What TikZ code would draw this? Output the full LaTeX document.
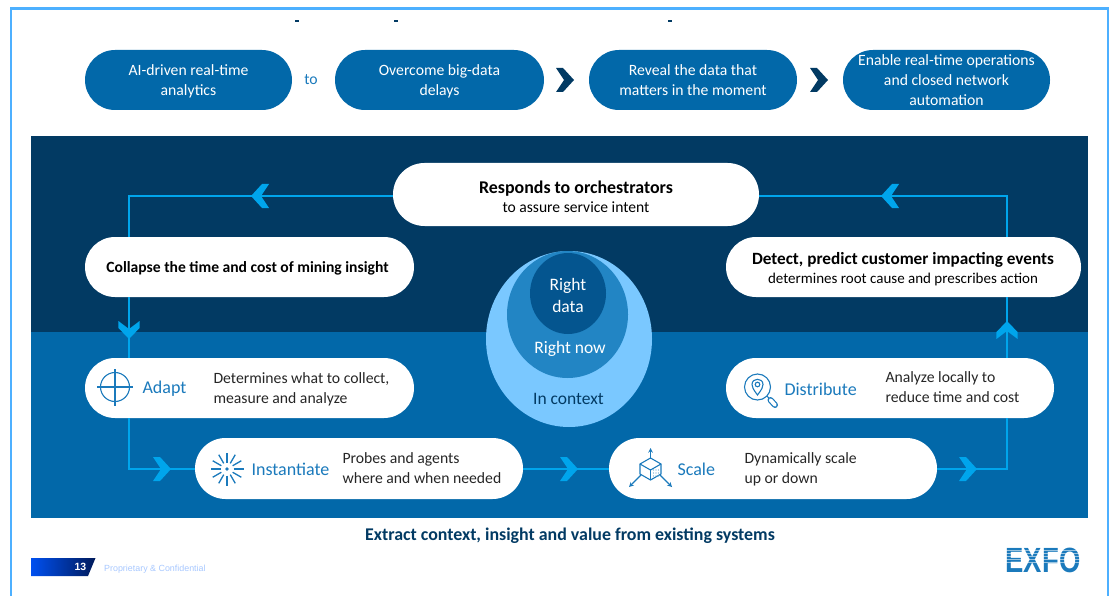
\documentclass[tikz,border=0pt]{standalone}
\usepackage{fontspec}
\setmainfont{Carlito}
\newfontfamily\footfont{Liberation Sans}
\usetikzlibrary{shapes.geometric, shapes.misc, arrows, positioning}

\definecolor{navyband}{HTML}{023A63}
\definecolor{blueband}{HTML}{0268A9}
\definecolor{linkcyan}{HTML}{00A5EC}
\definecolor{framesky}{HTML}{4DB0FF}
\definecolor{labelblue}{HTML}{1B7ABC}
\definecolor{ringpale}{HTML}{7AC8FF}
\definecolor{ringmid}{HTML}{2285C4}
\definecolor{ringdark}{HTML}{04558F}
\definecolor{footblue}{HTML}{0050F0}
\definecolor{footnavy}{HTML}{001A5A}
\definecolor{footgrey}{HTML}{A8C8FF}

\tikzset{
    pill/.style={rounded rectangle, fill=white, inner sep=0pt, align=center, text=black!90},
    toppill/.style={rounded rectangle, fill=blueband, text=white, inner sep=0pt, align=center,
        minimum height=60pt, font=\fontsize{15.7}{20}\selectfont},
    stagelabel/.style={anchor=west, text=labelblue, font=\fontsize{18}{22}\selectfont},
    stagetext/.style={anchor=west, align=left, text=black!85, font=\fontsize{15.7}{20}\selectfont},
    ringtext/.style={text=white, align=center, font=\fontsize{17.5}{22}\selectfont},
    link/.style={draw=linkcyan, line width=1.6pt},
    icon/.style={draw=labelblue, line width=1.1pt},
    chevron/.pic={\fill (-9,-12) -- (-2,-12) -- (9,0) -- (-2,12) -- (-9,12) -- (-1,0) -- cycle;}
}

\begin{document}
\begin{tikzpicture}[x=1pt,y=-1pt]
\useasboundingbox (0,0) rectangle (1113,596);

% Frame, open at the bottom
\draw[framesky, line width=2.8pt] (11,596) -- (11,8.5) -- (1108,8.5) -- (1108,596);

% Specks left of a cut title
\foreach \x in {297,396,670}
{
    \fill[navyband] (\x-2,20) rectangle ++(4,2.5);
}

% Bands
\fill[navyband] (31,136) rectangle (1088,332);
\fill[blueband] (31,332) rectangle (1088,518);

% Top row
\node[toppill, minimum width=207pt] (analytics) at (188.5,80) {AI-driven real-time\\\smash{analytics}};
\node[toppill, minimum width=209pt] (delays) at (439.5,80) {Overcome big-data\\\smash{delays}};
\node[toppill, minimum width=208pt] (reveal) at (693,80) {Reveal the data that\\matters in the moment};
\node[toppill, minimum width=207pt] (enable) at (946.5,80) {Enable real-time operations\\and closed network\\automation};
\node[text=labelblue, font=\fontsize{15.7}{20}\selectfont] (tolabel) at (311,80) {to};
\foreach \x in {565,819}
{
    \path[fill=navyband] (\x,80) pic {chevron};
}

% Corners of the loop
\coordinate (cornerTL) at (129,196);
\coordinate (cornerBL) at (129,469);
\coordinate (cornerBR) at (1007,469);
\coordinate (cornerTR) at (1007,196);

% White pills
\node[pill, minimum width=366pt, minimum height=63pt] (responds) at (576,194.5) {};
\node[pill, minimum width=329pt, minimum height=60pt] (collapse) at (249.5,267) {};
\node[pill, minimum width=355pt, minimum height=60pt] (detect) at (903.5,267) {};
\node[pill, minimum width=329pt, minimum height=60pt] (adapt) at (249.5,388) {};
\node[pill, minimum width=328pt, minimum height=60pt] (distribute) at (890,388) {};
\node[pill, minimum width=328pt, minimum height=61pt] (instantiate) at (359,468.5) {};
\node[pill, minimum width=328pt, minimum height=61pt] (scale) at (773,468.5) {};

% Loop
\draw[link] (responds.west |- cornerTL) -- (cornerTL) -- (collapse.north -| cornerTL);
\draw[link] (collapse.south -| cornerTL) -- (adapt.north -| cornerTL);
\draw[link] (adapt.south -| cornerTL) -- (cornerBL) -- (instantiate.west |- cornerBL);
\draw[link] (instantiate.east |- cornerBL) -- (scale.west |- cornerBL);
\draw[link] (scale.east |- cornerBR) -- (cornerBR) -- (distribute.south -| cornerBR);
\draw[link] (distribute.north -| cornerBR) -- (detect.south -| cornerBR);
\draw[link] (detect.north -| cornerTR) -- (cornerTR) -- (responds.east |- cornerTR);

% Chevrons on the loop
\path[fill=linkcyan] (260,196) pic[rotate=180] {chevron};
\path[fill=linkcyan] (890,196) pic[rotate=180] {chevron};
\path[fill=linkcyan] (129,330) pic[rotate=-90, yscale=0.88] {chevron};
\path[fill=linkcyan] (1007,330) pic[rotate=90, yscale=0.88] {chevron};
\foreach \x in {162,569,968}
{
    \path[fill=linkcyan] (\x,469) pic {chevron};
}

% Rings
\node[ellipse, fill=ringpale, minimum width=166pt, minimum height=176pt, inner sep=0pt] (ringcontext) at (569,339) {};
\node[ellipse, fill=ringmid, minimum width=121pt, minimum height=127pt, inner sep=0pt] (ringnow) at (567.5,314.5) {};
\node[ellipse, fill=ringdark, minimum width=76pt, minimum height=81pt, inner sep=0pt] (ringdata) at (568,293.5) {};
\node[ringtext] (datalabel) at (568,295) {Right\\data};
\node[ringtext] (nowlabel) at (570,348.5) {Right now};
\node[ringtext, text=navyband] (contextlabel) at (568.5,399) {In context};

% Pill texts
\node[align=center] (respondstext) at (576,197) {{\fontsize{17.9}{20}\bfseries\selectfont Responds to orchestrators}\\[5pt]{\fontsize{15.6}{20}\selectfont to assure service intent}};
\node[font=\fontsize{15.6}{20}\bfseries\selectfont] (collapsetext) at (247.5,268) {Collapse the time and cost of mining insight};
\node[align=center] (detecttext) at (903,269) {{\fontsize{17.2}{20}\bfseries\selectfont Detect, predict customer impacting events}\\[4pt]{\fontsize{15}{20}\selectfont determines root cause and prescribes action}};

% Stages
\node[stagelabel] (adaptlabel) at (139,389) {Adapt};
\node[stagetext] (adapttext) at (210,389) {Determines what to collect,\\measure and analyze};
\node[stagelabel] (instlabel) at (248,469) {Instantiate};
\node[stagetext] (insttext) at (339,468) {Probes and agents\\where and when needed};
\node[stagelabel] (scalelabel) at (674,469) {Scale};
\node[stagetext] (scaletext) at (741,469) {Dynamically scale\\up or down};
\node[stagelabel] (distlabel) at (781,389) {Distribute};
\node[stagetext] (disttext) at (882,387) {Analyze locally to\\reduce time and cost};

% Icon: crosshair
\draw[icon] (115,387) circle (14.5pt);
\draw[icon] (97,387) -- (133,387);
\draw[icon] (115,369) -- (115,406);

% Icon: burst
\foreach \a in {0,30,...,330}
{
    \draw[icon, line width=1.3pt] (227,469) ++(\a:6.5) -- ++(\a:10);
}
\fill[labelblue] (227,469) circle (1.8pt);

% Icon: lens with pin
\draw[icon] (757.5,387) circle (13pt);
\draw[icon] (757.5,395) .. controls (753,389) and (752,387) .. (752,384.5) .. controls (752,377.5) and (763,377.5) .. (763,384.5) .. controls (763,387) and (762,389) .. (757.5,395) -- cycle;
\draw[icon] (757.5,384.5) circle (2.3pt);
\draw[icon] (767,396) -- (770,399.5);
\draw[labelblue, line width=6pt, line cap=round] (770.5,400) -- (775,405);
\draw[white, line width=3.6pt, line cap=round] (770.5,400) -- (775,405);

% Icon: cube with arrows
\draw[icon] (650.5,458) -- (661,464) -- (661,474) -- (650.5,480) -- (640,474) -- (640,464) -- cycle;
\draw[icon] (640,464) -- (650.5,470) -- (661,464);
\draw[icon] (650.5,470) -- (650.5,480);
\foreach \x in {653.5,656,658.5}
{
    \foreach \y in {470,473,476}
    {
        \fill[labelblue!70] (\x,\y) circle (0.6pt);
    }
}
\draw[icon, -stealth] (650.5,458) -- (650.5,448);
\draw[icon, -stealth] (641,475) -- (629,487);
\draw[icon, -stealth] (660,475) -- (672,487);

% Caption
\node[text=navyband, font=\fontsize{17.9}{20}\bfseries\selectfont] (caption) at (570,536) {Extract context, insight and value from existing systems};

% Footer
\shade[left color=footblue, right color=footnavy] (31,558) -- (95.5,558) -- (88,576) -- (31,576) -- cycle;
\node[text=white, font=\footfont\fontsize{10.5}{10}\bfseries\selectfont] (pagenum) at (80.5,566.5) {13};
\node[anchor=west, inner sep=0pt, text=footgrey, font=\footfont\fontsize{8.9}{10}\selectfont] (confidential) at (104,569) {Proprietary \& Confidential};

% Logo, striped in its upper half
\node[anchor=center, inner sep=0pt, text=labelblue, yscale=1.25, xscale=0.98, transform shape, font=\footfont\fontsize{28}{28}\bfseries\selectfont] (logo) at (1043,560.5) {EXFO};
\foreach \y in {550,553,...,562}
{
    \draw[white, opacity=0.55, line width=0.9pt] (logo.west |- 0,\y) -- (logo.east |- 0,\y);
}

\end{tikzpicture}
\end{document}
